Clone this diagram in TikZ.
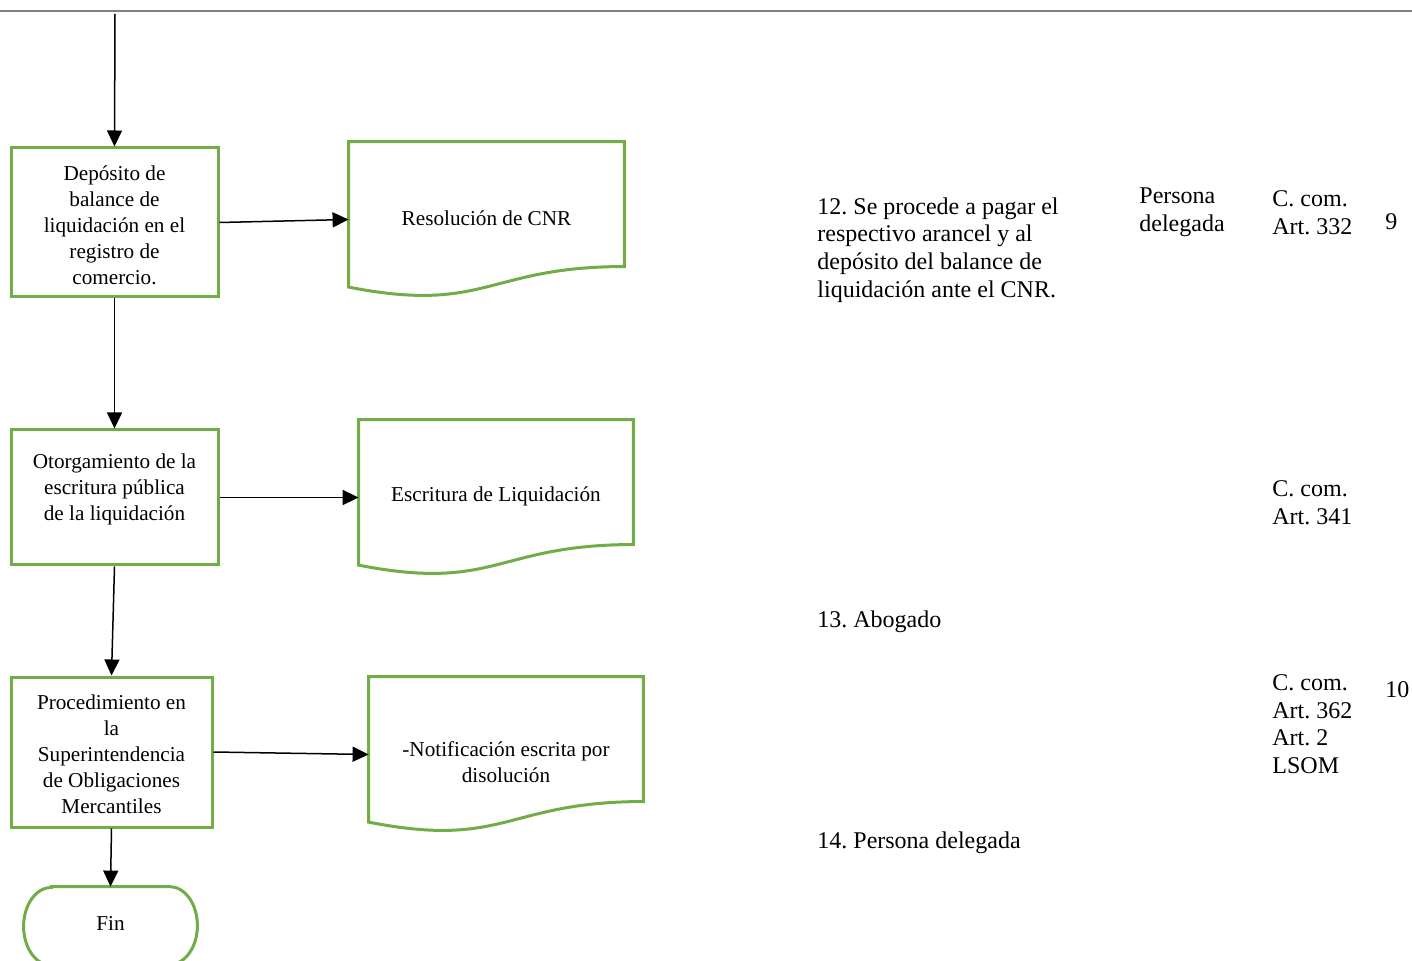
\documentclass[tikz,border=0pt]{standalone}
\usepackage{fontspec}
\setmainfont{Liberation Serif}
\usetikzlibrary{arrows.meta,calc}
\definecolor{flowgreen}{HTML}{70AD47}
\definecolor{rulegray}{HTML}{808080}
\frenchspacing
\begin{document}
\begin{tikzpicture}[x=0.5pt,y=-0.5pt,
  procbox/.style={draw=flowgreen,line width=1.5pt,inner sep=0pt,align=center,font=\fontsize{10.6}{13}\selectfont},
  boxtext/.style={inner sep=0pt,align=center,font=\fontsize{10.6}{13}\selectfont},
  docnode/.style={inner sep=0pt,align=center,minimum height=77.5pt,font=\fontsize{10.6}{13}\selectfont},
  outline/.style={draw=flowgreen,line width=1.5pt},
  arr/.style={draw=black,line width=0.75pt,-{Triangle[length=8pt,width=7.5pt]}},
  sidetext/.style={inner sep=0pt,anchor=west,align=left,font=\fontsize{12}{13.8}\selectfont}]
\useasboundingbox (0,0) rectangle (1412,961);
\clip (0,0) rectangle (1412,961);
\fill[white] (0,0) rectangle (1412,961);

% top rule
\draw[rulegray,line width=1pt] (0,11) -- (1412,11);

% process boxes
\node[procbox,minimum width=103.5pt,minimum height=74.5pt] (b1) at (114.5,222.5) {};
\node[boxtext] (b1t) at (114.5,225)
  {Depósito de\\balance de\\liquidación en el\\registro de\\comercio.};
\node[procbox,minimum width=103.5pt,minimum height=67.5pt] (b2) at (114.5,497.5) {};
\node[boxtext] (b2t) at (114.5,489) {Otorgamiento de la\\escritura pública\\de la liquidación};
\node[procbox,minimum width=100.5pt,minimum height=75pt] (b3) at (111.5,752) {};
\node[boxtext] (b3t) at (111.5,754)
  {Procedimiento en\\la\\Superintendencia\\de Obligaciones\\Mercantiles};

% documents
\node[docnode,minimum width=137.5pt] (d1) at (486.5,219.5) {};
\node[boxtext] (d1t) at (486.5,218) {Resolución de CNR};
\node[docnode,minimum width=137pt] (d2) at (496,497.5) {};
\node[boxtext] (d2t) at (496,496) {Escritura de Liquidación};
\node[docnode,minimum width=137pt] (d3) at (506,754.5) {};
\node[boxtext] (d3t) at (506,762) {-Notificación escrita por\\disolución};
\foreach \d in {d1,d2,d3}{
  \draw[outline] (\d.north west) -- (\d.north east) -- ($(\d.north east)!0.802!(\d.south east)$)
    .. controls ($(\d.north)!0.802!(\d.south)$) and ($(\d.north)!1.1075!(\d.south)$) ..
    ($(\d.north west)!0.9339!(\d.south west)$) -- cycle;
}

% terminator
\node[minimum width=86.5pt,minimum height=39pt,inner sep=0pt] (fin) at (110.5,926) {};
\node[boxtext] (fint) at (110.5,923) {Fin};
\draw[outline] ($(fin.north west)+(13.9pt,0pt)$) -- ($(fin.north east)+(-13.9pt,0pt)$)
  arc[start angle=90,end angle=-90,x radius=13.9pt,y radius=19.5pt]
  -- ($(fin.south west)+(13.9pt,0pt)$)
  arc[start angle=270,end angle=90,x radius=13.9pt,y radius=19.5pt] -- cycle;

% connectors
\coordinate (start) at (115,14);
\draw[arr] (start) -- (b1.north);
\draw[arr] (b1.east) -- (d1.west);
\draw[arr] (b1.south) -- (b2.north);
\draw[arr] (b2.east) -- (d2.west);
\draw[arr] (b2.south) -- (b3.north);
\draw[arr] (b3.east) -- (d3.west);
\draw[arr] (b3.south) -- (fin.north);

% side texts
\node[sidetext] (t12) at (817,250) {12. Se procede a pagar el\\respectivo arancel y al\\depósito del balance de\\liquidación ante el CNR.};
\node[sidetext] (p12) at (1139,212.5) {Persona\\delegada};
\node[sidetext] (c12) at (1272,212.5) {C. com.\\Art. 332};
\node[sidetext] (n9) at (1385,222) {9};
\node[sidetext] (c341) at (1272,503) {C. com.\\Art. 341};
\node[sidetext] (t13) at (817,622) {13. Abogado};
\node[sidetext] (c362) at (1272,724) {C. com.\\Art. 362\\Art. 2\\LSOM};
\node[sidetext] (n10) at (1385,690) {10};
\node[sidetext] (t14) at (817,843) {14. Persona delegada};
\end{tikzpicture}
\end{document}
